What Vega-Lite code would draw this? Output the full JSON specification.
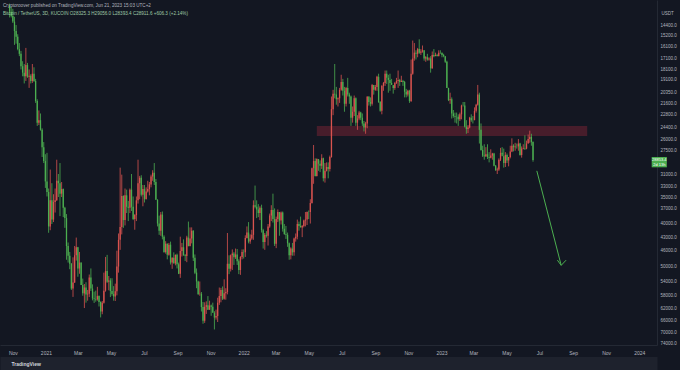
{
"$schema":"https://vega.github.io/schema/vega-lite/v6.json",
"width":657,"height":345,"autosize":"none","padding":{"left":0,"top":0,"right":23,"bottom":25},
"background":"#131722",
"config":{"view":{"stroke":null},"font":"Liberation Sans"},
"title":{"text":"Cryptoroover published on TradingView.com, Jun 21, 2023 15:03 UTC+2","subtitle":"Bitcoin / TetherUS, 3D, KUCOIN  O28325.3  H29056.0  L28393.4  C28911.6  +606.3 (+2.14%)","anchor":"start","frame":"group","orient":"top","offset":-16,"dx":3,"fontSize":4.6,"fontWeight":"normal","color":"#b2b5be","subtitleFontSize":4.6,"subtitleColor":"#9fc9a6","subtitlePadding":3.5},
"resolve":{"axis":{"x":"independent","y":"independent"}},
"datasets":{"candles":[
{"d":"2020-10-26","o":13030,"h":13850,"l":12900,"c":13450},
{"d":"2020-10-29","o":13450,"h":13850,"l":13100,"c":13750},
{"d":"2020-11-01","o":13750,"h":14250,"l":13250,"c":14150},
{"d":"2020-11-04","o":14150,"h":15950,"l":13800,"c":14850},
{"d":"2020-11-07","o":14850,"h":15850,"l":14400,"c":15300},
{"d":"2020-11-10","o":15300,"h":16400,"l":15100,"c":16300},
{"d":"2020-11-13","o":16300,"h":16900,"l":15800,"c":16700},
{"d":"2020-11-16","o":16700,"h":18100,"l":16450,"c":17800},
{"d":"2020-11-19","o":17800,"h":18750,"l":17350,"c":18400},
{"d":"2020-11-22","o":18400,"h":19450,"l":17600,"c":18750},
{"d":"2020-11-25","o":18750,"h":19200,"l":16200,"c":17700},
{"d":"2020-11-28","o":17700,"h":18900,"l":17500,"c":18800},
{"d":"2020-12-01","o":18800,"h":19900,"l":18100,"c":18700},
{"d":"2020-12-04","o":18700,"h":19450,"l":18550,"c":19200},
{"d":"2020-12-07","o":19200,"h":19400,"l":17600,"c":18500},
{"d":"2020-12-10","o":18500,"h":19300,"l":17900,"c":19200},
{"d":"2020-12-13","o":19200,"h":21500,"l":19000,"c":21300},
{"d":"2020-12-16","o":21300,"h":24200,"l":21100,"c":23800},
{"d":"2020-12-19","o":23800,"h":24100,"l":22350,"c":23500},
{"d":"2020-12-22","o":23500,"h":24800,"l":22700,"c":24700},
{"d":"2020-12-25","o":24700,"h":28400,"l":24500,"c":27000},
{"d":"2020-12-28","o":27000,"h":29300,"l":26300,"c":29000},
{"d":"2020-12-31","o":29000,"h":33300,"l":28000,"c":32200},
{"d":"2021-01-03","o":32200,"h":34800,"l":27800,"c":34000},
{"d":"2021-01-06","o":34000,"h":41950,"l":33400,"c":40600},
{"d":"2021-01-09","o":40600,"h":41400,"l":30300,"c":35500},
{"d":"2021-01-12","o":35500,"h":40100,"l":32500,"c":39200},
{"d":"2021-01-15","o":39200,"h":39700,"l":34400,"c":35800},
{"d":"2021-01-18","o":35800,"h":37800,"l":33400,"c":35500},
{"d":"2021-01-21","o":35500,"h":35600,"l":28800,"c":32100},
{"d":"2021-01-24","o":32100,"h":34900,"l":31000,"c":32500},
{"d":"2021-01-27","o":32500,"h":38500,"l":29300,"c":34300},
{"d":"2021-01-30","o":34300,"h":34900,"l":32300,"c":33500},
{"d":"2021-02-02","o":33500,"h":38700,"l":33400,"c":36900},
{"d":"2021-02-05","o":36900,"h":40900,"l":36700,"c":38900},
{"d":"2021-02-08","o":38900,"h":48200,"l":38100,"c":44900},
{"d":"2021-02-11","o":44900,"h":48900,"l":44100,"c":47200},
{"d":"2021-02-14","o":47200,"h":50600,"l":46300,"c":49200},
{"d":"2021-02-17","o":49200,"h":56300,"l":49000,"c":55900},
{"d":"2021-02-20","o":55900,"h":58350,"l":47600,"c":54200},
{"d":"2021-02-23","o":54200,"h":54300,"l":44900,"c":47100},
{"d":"2021-02-26","o":47100,"h":48400,"l":43000,"c":45200},
{"d":"2021-03-01","o":45200,"h":52600,"l":45100,"c":50400},
{"d":"2021-03-04","o":50400,"h":51800,"l":46300,"c":48900},
{"d":"2021-03-07","o":48900,"h":54900,"l":48900,"c":54900},
{"d":"2021-03-10","o":54900,"h":58000,"l":53100,"c":57300},
{"d":"2021-03-13","o":57300,"h":61800,"l":54600,"c":55600},
{"d":"2021-03-16","o":55600,"h":60100,"l":54100,"c":57600},
{"d":"2021-03-19","o":57600,"h":59500,"l":56300,"c":57400},
{"d":"2021-03-22","o":57400,"h":58400,"l":52000,"c":52800},
{"d":"2021-03-25","o":52800,"h":56600,"l":50400,"c":55900},
{"d":"2021-03-28","o":55900,"h":59400,"l":54700,"c":58800},
{"d":"2021-03-31","o":58800,"h":60200,"l":56800,"c":59000},
{"d":"2021-04-03","o":59000,"h":59800,"l":56500,"c":59100},
{"d":"2021-04-06","o":59100,"h":59500,"l":55400,"c":58100},
{"d":"2021-04-09","o":58100,"h":61300,"l":57900,"c":59900},
{"d":"2021-04-12","o":59900,"h":64850,"l":59700,"c":62900},
{"d":"2021-04-15","o":62900,"h":63800,"l":59600,"c":60100},
{"d":"2021-04-18","o":60100,"h":60400,"l":51500,"c":56500},
{"d":"2021-04-21","o":56500,"h":56800,"l":47500,"c":51100},
{"d":"2021-04-24","o":51100,"h":54300,"l":47000,"c":54000},
{"d":"2021-04-27","o":54000,"h":56400,"l":52400,"c":53600},
{"d":"2021-04-30","o":53600,"h":58400,"l":53000,"c":56600},
{"d":"2021-05-03","o":56600,"h":58000,"l":53000,"c":57500},
{"d":"2021-05-06","o":57500,"h":59500,"l":55200,"c":58200},
{"d":"2021-05-09","o":58200,"h":59600,"l":54500,"c":56700},
{"d":"2021-05-12","o":56700,"h":57900,"l":46000,"c":49900},
{"d":"2021-05-15","o":49900,"h":51500,"l":42100,"c":43500},
{"d":"2021-05-18","o":43500,"h":45800,"l":30000,"c":40700},
{"d":"2021-05-21","o":40700,"h":42300,"l":31100,"c":34700},
{"d":"2021-05-24","o":34700,"h":40900,"l":34600,"c":39300},
{"d":"2021-05-27","o":39300,"h":40400,"l":33400,"c":34600},
{"d":"2021-05-30","o":34600,"h":37900,"l":33600,"c":36700},
{"d":"2021-06-02","o":36700,"h":39500,"l":35600,"c":36900},
{"d":"2021-06-05","o":36900,"h":37900,"l":33400,"c":33600},
{"d":"2021-06-08","o":33600,"h":37500,"l":31000,"c":36700},
{"d":"2021-06-11","o":36700,"h":39300,"l":34800,"c":39100},
{"d":"2021-06-14","o":39100,"h":41300,"l":38100,"c":38300},
{"d":"2021-06-17","o":38300,"h":39500,"l":34800,"c":35500},
{"d":"2021-06-20","o":35500,"h":36100,"l":28800,"c":32500},
{"d":"2021-06-23","o":32500,"h":35300,"l":31300,"c":31600},
{"d":"2021-06-26","o":31600,"h":34800,"l":31200,"c":34500},
{"d":"2021-06-29","o":34500,"h":36600,"l":32800,"c":33500},
{"d":"2021-07-02","o":33500,"h":35900,"l":32800,"c":35300},
{"d":"2021-07-05","o":35300,"h":35300,"l":33200,"c":33900},
{"d":"2021-07-08","o":33900,"h":34100,"l":32100,"c":33500},
{"d":"2021-07-11","o":33500,"h":34600,"l":32300,"c":32700},
{"d":"2021-07-14","o":32700,"h":33200,"l":31100,"c":31400},
{"d":"2021-07-17","o":31400,"h":32100,"l":30400,"c":30800},
{"d":"2021-07-20","o":30800,"h":32800,"l":29300,"c":32300},
{"d":"2021-07-23","o":32300,"h":35400,"l":31800,"c":35400},
{"d":"2021-07-26","o":35400,"h":40600,"l":35300,"c":40000},
{"d":"2021-07-29","o":40000,"h":42400,"l":38400,"c":41500},
{"d":"2021-08-01","o":41500,"h":42600,"l":37700,"c":38200},
{"d":"2021-08-04","o":38200,"h":43400,"l":37600,"c":42800},
{"d":"2021-08-07","o":42800,"h":46500,"l":42500,"c":46300},
{"d":"2021-08-10","o":46300,"h":46700,"l":43800,"c":44400},
{"d":"2021-08-13","o":44400,"h":48100,"l":44300,"c":47000},
{"d":"2021-08-16","o":47000,"h":47200,"l":44200,"c":44600},
{"d":"2021-08-19","o":44600,"h":49400,"l":43900,"c":48900},
{"d":"2021-08-22","o":48900,"h":50500,"l":47600,"c":47700},
{"d":"2021-08-25","o":47700,"h":49200,"l":46400,"c":49100},
{"d":"2021-08-28","o":49100,"h":49600,"l":46900,"c":47000},
{"d":"2021-08-31","o":47000,"h":50400,"l":46700,"c":49300},
{"d":"2021-09-03","o":49300,"h":51900,"l":48900,"c":51800},
{"d":"2021-09-06","o":51800,"h":52900,"l":42800,"c":46100},
{"d":"2021-09-09","o":46100,"h":47400,"l":44200,"c":45200},
{"d":"2021-09-12","o":45200,"h":47200,"l":43400,"c":47100},
{"d":"2021-09-15","o":47100,"h":48500,"l":46800,"c":47300},
{"d":"2021-09-18","o":47300,"h":48800,"l":42600,"c":43000},
{"d":"2021-09-21","o":43000,"h":45000,"l":39600,"c":44900},
{"d":"2021-09-24","o":44900,"h":45000,"l":40800,"c":43200},
{"d":"2021-09-27","o":43200,"h":44300,"l":40800,"c":41500},
{"d":"2021-09-30","o":41500,"h":48500,"l":41400,"c":47700},
{"d":"2021-10-03","o":47700,"h":51900,"l":46900,"c":51500},
{"d":"2021-10-06","o":51500,"h":55800,"l":50400,"c":53900},
{"d":"2021-10-09","o":53900,"h":57800,"l":53700,"c":57500},
{"d":"2021-10-12","o":57500,"h":58000,"l":53900,"c":57400},
{"d":"2021-10-15","o":57400,"h":62900,"l":56900,"c":61500},
{"d":"2021-10-18","o":61500,"h":67000,"l":59900,"c":66000},
{"d":"2021-10-21","o":66000,"h":66700,"l":60000,"c":61400},
{"d":"2021-10-24","o":61400,"h":63700,"l":59700,"c":60900},
{"d":"2021-10-27","o":60900,"h":62400,"l":58100,"c":62300},
{"d":"2021-10-30","o":62300,"h":62400,"l":59500,"c":61000},
{"d":"2021-11-02","o":61000,"h":64300,"l":60700,"c":61400},
{"d":"2021-11-05","o":61400,"h":63300,"l":60100,"c":63300},
{"d":"2021-11-08","o":63300,"h":69000,"l":62800,"c":64900},
{"d":"2021-11-11","o":64900,"h":65600,"l":62300,"c":64400},
{"d":"2021-11-14","o":64400,"h":66400,"l":58600,"c":60100},
{"d":"2021-11-17","o":60100,"h":60800,"l":55600,"c":58100},
{"d":"2021-11-20","o":58100,"h":60000,"l":55700,"c":56300},
{"d":"2021-11-23","o":56300,"h":59300,"l":55300,"c":58900},
{"d":"2021-11-26","o":58900,"h":59200,"l":53300,"c":57300},
{"d":"2021-11-29","o":57300,"h":59200,"l":55800,"c":56900},
{"d":"2021-12-02","o":56900,"h":57600,"l":42000,"c":49200},
{"d":"2021-12-05","o":49200,"h":51900,"l":47100,"c":50500},
{"d":"2021-12-08","o":50500,"h":51200,"l":46900,"c":47100},
{"d":"2021-12-11","o":47100,"h":50800,"l":45700,"c":46700},
{"d":"2021-12-14","o":46700,"h":49500,"l":46300,"c":47600},
{"d":"2021-12-17","o":47600,"h":48000,"l":45500,"c":46900},
{"d":"2021-12-20","o":46900,"h":49500,"l":45600,"c":48600},
{"d":"2021-12-23","o":48600,"h":51900,"l":48100,"c":50800},
{"d":"2021-12-26","o":50800,"h":52100,"l":47300,"c":47500},
{"d":"2021-12-29","o":47500,"h":48100,"l":45700,"c":46300},
{"d":"2022-01-01","o":46300,"h":47900,"l":45700,"c":46400},
{"d":"2022-01-04","o":46400,"h":47500,"l":42500,"c":43100},
{"d":"2022-01-07","o":43100,"h":43200,"l":40600,"c":41900},
{"d":"2022-01-10","o":41900,"h":44300,"l":39700,"c":43900},
{"d":"2022-01-13","o":43900,"h":44400,"l":42300,"c":43200},
{"d":"2022-01-16","o":43200,"h":43500,"l":41300,"c":42400},
{"d":"2022-01-19","o":42400,"h":43500,"l":35500,"c":36400},
{"d":"2022-01-22","o":36400,"h":37000,"l":32900,"c":36700},
{"d":"2022-01-25","o":36700,"h":38900,"l":35500,"c":37200},
{"d":"2022-01-28","o":37200,"h":38700,"l":36200,"c":37900},
{"d":"2022-01-31","o":37900,"h":39300,"l":36600,"c":36900},
{"d":"2022-02-03","o":36900,"h":41900,"l":36300,"c":41400},
{"d":"2022-02-06","o":41400,"h":45500,"l":41100,"c":44000},
{"d":"2022-02-09","o":44000,"h":45800,"l":42000,"c":42400},
{"d":"2022-02-12","o":42400,"h":43000,"l":41600,"c":42600},
{"d":"2022-02-15","o":42600,"h":44800,"l":40100,"c":40600},
{"d":"2022-02-18","o":40600,"h":40900,"l":38000,"c":38400},
{"d":"2022-02-21","o":38400,"h":39500,"l":36400,"c":37300},
{"d":"2022-02-24","o":37300,"h":39800,"l":34300,"c":39100},
{"d":"2022-02-27","o":39100,"h":44900,"l":37000,"c":44400},
{"d":"2022-03-02","o":44400,"h":45400,"l":38600,"c":39100},
{"d":"2022-03-05","o":39100,"h":39700,"l":37200,"c":37700},
{"d":"2022-03-08","o":37700,"h":42600,"l":37900,"c":39400},
{"d":"2022-03-11","o":39400,"h":40200,"l":37600,"c":37800},
{"d":"2022-03-14","o":37800,"h":41700,"l":37600,"c":41100},
{"d":"2022-03-17","o":41100,"h":42400,"l":40100,"c":42200},
{"d":"2022-03-20","o":42200,"h":43300,"l":40500,"c":42400},
{"d":"2022-03-23","o":42400,"h":45100,"l":41900,"c":44300},
{"d":"2022-03-26","o":44300,"h":48200,"l":44100,"c":47100},
{"d":"2022-03-29","o":47100,"h":48100,"l":45200,"c":45500},
{"d":"2022-04-01","o":45500,"h":47200,"l":44200,"c":46400},
{"d":"2022-04-04","o":46400,"h":47200,"l":43000,"c":43200},
{"d":"2022-04-07","o":43200,"h":43900,"l":42100,"c":42800},
{"d":"2022-04-10","o":42800,"h":43400,"l":39200,"c":40100},
{"d":"2022-04-13","o":40100,"h":41500,"l":39600,"c":40500},
{"d":"2022-04-16","o":40500,"h":40800,"l":38600,"c":40800},
{"d":"2022-04-19","o":40800,"h":42900,"l":40300,"c":40500},
{"d":"2022-04-22","o":40500,"h":40800,"l":39200,"c":39400},
{"d":"2022-04-25","o":39400,"h":40600,"l":37700,"c":39200},
{"d":"2022-04-28","o":39200,"h":40300,"l":37600,"c":37700},
{"d":"2022-05-01","o":37700,"h":39100,"l":37400,"c":37700},
{"d":"2022-05-04","o":37700,"h":40000,"l":35300,"c":36000},
{"d":"2022-05-07","o":36000,"h":36100,"l":30000,"c":30100},
{"d":"2022-05-10","o":30100,"h":32600,"l":26700,"c":29000},
{"d":"2022-05-13","o":29000,"h":31400,"l":28600,"c":31300},
{"d":"2022-05-16","o":31300,"h":31400,"l":28600,"c":28700},
{"d":"2022-05-19","o":28700,"h":30500,"l":28700,"c":29400},
{"d":"2022-05-22","o":29400,"h":30700,"l":28900,"c":29700},
{"d":"2022-05-25","o":29700,"h":30200,"l":28000,"c":28600},
{"d":"2022-05-28","o":28600,"h":32200,"l":28500,"c":31700},
{"d":"2022-05-31","o":31700,"h":32400,"l":29300,"c":30500},
{"d":"2022-06-03","o":30500,"h":30600,"l":29200,"c":29900},
{"d":"2022-06-06","o":29900,"h":31700,"l":29200,"c":30200},
{"d":"2022-06-09","o":30200,"h":30600,"l":28200,"c":28400},
{"d":"2022-06-12","o":28400,"h":28500,"l":20800,"c":22200},
{"d":"2022-06-15","o":22200,"h":22900,"l":20100,"c":20500},
{"d":"2022-06-18","o":20500,"h":21000,"l":17600,"c":20600},
{"d":"2022-06-21","o":20600,"h":21700,"l":19800,"c":21100},
{"d":"2022-06-24","o":21100,"h":21900,"l":20900,"c":21000},
{"d":"2022-06-27","o":21000,"h":21500,"l":19900,"c":20100},
{"d":"2022-06-30","o":20100,"h":20200,"l":18600,"c":19300},
{"d":"2022-07-03","o":19300,"h":20700,"l":19000,"c":20200},
{"d":"2022-07-06","o":20200,"h":22500,"l":19800,"c":21600},
{"d":"2022-07-09","o":21600,"h":21900,"l":19800,"c":19900},
{"d":"2022-07-12","o":19900,"h":20800,"l":18900,"c":20600},
{"d":"2022-07-15","o":20600,"h":21600,"l":20400,"c":20800},
{"d":"2022-07-18","o":20800,"h":24200,"l":20700,"c":23200},
{"d":"2022-07-21","o":23200,"h":23800,"l":21900,"c":22500},
{"d":"2022-07-24","o":22500,"h":23000,"l":20700,"c":21000},
{"d":"2022-07-27","o":21000,"h":24200,"l":20900,"c":23800},
{"d":"2022-07-30","o":23800,"h":24700,"l":22900,"c":23300},
{"d":"2022-08-02","o":23300,"h":23500,"l":22400,"c":22600},
{"d":"2022-08-05","o":22600,"h":23500,"l":22500,"c":23200},
{"d":"2022-08-08","o":23200,"h":24200,"l":22700,"c":23900},
{"d":"2022-08-11","o":23900,"h":24900,"l":23600,"c":24400},
{"d":"2022-08-14","o":24400,"h":25200,"l":23700,"c":23900},
{"d":"2022-08-17","o":23900,"h":24500,"l":20800,"c":20800},
{"d":"2022-08-20","o":20800,"h":21800,"l":20800,"c":21400},
{"d":"2022-08-23","o":21400,"h":21900,"l":20900,"c":21600},
{"d":"2022-08-26","o":21600,"h":21800,"l":19500,"c":19600},
{"d":"2022-08-29","o":19600,"h":20600,"l":19600,"c":20100},
{"d":"2022-09-01","o":20100,"h":20200,"l":19600,"c":19800},
{"d":"2022-09-04","o":19800,"h":20200,"l":18700,"c":18800},
{"d":"2022-09-07","o":18800,"h":21500,"l":18500,"c":21400},
{"d":"2022-09-10","o":21400,"h":22500,"l":21300,"c":22400},
{"d":"2022-09-13","o":22400,"h":22800,"l":19600,"c":19700},
{"d":"2022-09-16","o":19700,"h":20200,"l":19300,"c":19400},
{"d":"2022-09-19","o":19400,"h":19700,"l":18200,"c":18500},
{"d":"2022-09-22","o":18500,"h":19500,"l":18200,"c":18900},
{"d":"2022-09-25","o":18900,"h":20400,"l":18600,"c":19100},
{"d":"2022-09-28","o":19100,"h":20200,"l":18500,"c":19400},
{"d":"2022-10-01","o":19400,"h":19500,"l":19000,"c":19600},
{"d":"2022-10-04","o":19600,"h":20500,"l":19700,"c":19900},
{"d":"2022-10-07","o":19900,"h":20100,"l":19300,"c":19400},
{"d":"2022-10-10","o":19400,"h":19500,"l":18900,"c":19200},
{"d":"2022-10-13","o":19200,"h":19900,"l":18200,"c":19100},
{"d":"2022-10-16","o":19100,"h":19700,"l":19000,"c":19300},
{"d":"2022-10-19","o":19300,"h":19300,"l":18700,"c":19200},
{"d":"2022-10-22","o":19200,"h":19700,"l":19100,"c":19300},
{"d":"2022-10-25","o":19300,"h":20900,"l":19200,"c":20300},
{"d":"2022-10-28","o":20300,"h":20900,"l":20000,"c":20600},
{"d":"2022-10-31","o":20600,"h":20800,"l":20100,"c":20200},
{"d":"2022-11-03","o":20200,"h":21500,"l":20100,"c":21300},
{"d":"2022-11-06","o":21300,"h":21400,"l":17200,"c":18500},
{"d":"2022-11-09","o":18500,"h":18600,"l":15600,"c":17100},
{"d":"2022-11-12","o":17100,"h":17300,"l":15800,"c":16600},
{"d":"2022-11-15","o":16600,"h":17200,"l":16400,"c":16700},
{"d":"2022-11-18","o":16700,"h":17000,"l":16200,"c":16300},
{"d":"2022-11-21","o":16300,"h":16700,"l":15500,"c":16600},
{"d":"2022-11-24","o":16600,"h":16800,"l":16300,"c":16500},
{"d":"2022-11-27","o":16500,"h":16600,"l":16000,"c":16400},
{"d":"2022-11-30","o":16400,"h":17300,"l":16400,"c":17100},
{"d":"2022-12-03","o":17100,"h":17400,"l":16900,"c":17000},
{"d":"2022-12-06","o":17000,"h":17300,"l":16700,"c":17200},
{"d":"2022-12-09","o":17200,"h":17300,"l":17000,"c":17100},
{"d":"2022-12-12","o":17100,"h":18400,"l":16900,"c":18000},
{"d":"2022-12-15","o":18000,"h":18000,"l":16500,"c":16800},
{"d":"2022-12-18","o":16800,"h":17000,"l":16300,"c":16900},
{"d":"2022-12-21","o":16900,"h":16900,"l":16600,"c":16800},
{"d":"2022-12-24","o":16800,"h":16900,"l":16700,"c":16900},
{"d":"2022-12-27","o":16900,"h":16900,"l":16400,"c":16600},
{"d":"2022-12-30","o":16600,"h":16700,"l":16400,"c":16600},
{"d":"2023-01-02","o":16600,"h":17000,"l":16600,"c":16800},
{"d":"2023-01-05","o":16800,"h":17000,"l":16700,"c":16900},
{"d":"2023-01-08","o":16900,"h":17500,"l":16900,"c":17400},
{"d":"2023-01-11","o":17400,"h":19900,"l":17300,"c":19900},
{"d":"2023-01-14","o":19900,"h":21300,"l":19900,"c":21200},
{"d":"2023-01-17","o":21200,"h":21600,"l":20400,"c":21100},
{"d":"2023-01-20","o":21100,"h":23300,"l":20900,"c":22700},
{"d":"2023-01-23","o":22700,"h":23200,"l":22300,"c":23000},
{"d":"2023-01-26","o":23000,"h":23800,"l":22600,"c":23100},
{"d":"2023-01-29","o":23100,"h":23900,"l":22600,"c":23100},
{"d":"2023-02-01","o":23100,"h":24200,"l":22800,"c":23400},
{"d":"2023-02-04","o":23400,"h":23600,"l":22600,"c":22800},
{"d":"2023-02-07","o":22800,"h":23400,"l":21700,"c":21800},
{"d":"2023-02-10","o":21800,"h":21900,"l":21400,"c":21800},
{"d":"2023-02-13","o":21800,"h":24400,"l":21400,"c":24300},
{"d":"2023-02-16","o":24300,"h":25200,"l":23500,"c":24600},
{"d":"2023-02-19","o":24600,"h":25100,"l":24100,"c":24400},
{"d":"2023-02-22","o":24400,"h":24500,"l":23100,"c":23200},
{"d":"2023-02-25","o":23200,"h":23700,"l":22800,"c":23500},
{"d":"2023-02-28","o":23500,"h":23900,"l":23000,"c":23500},
{"d":"2023-03-03","o":23500,"h":23500,"l":22000,"c":22400},
{"d":"2023-03-06","o":22400,"h":22600,"l":21600,"c":21700},
{"d":"2023-03-09","o":21700,"h":21800,"l":19600,"c":20600},
{"d":"2023-03-12","o":20600,"h":26500,"l":20400,"c":24700},
{"d":"2023-03-15","o":24700,"h":27500,"l":23900,"c":27400},
{"d":"2023-03-18","o":27400,"h":28400,"l":26800,"c":28200},
{"d":"2023-03-21","o":28200,"h":28800,"l":26600,"c":28300},
{"d":"2023-03-24","o":28300,"h":28400,"l":27000,"c":28000},
{"d":"2023-03-27","o":28000,"h":28700,"l":26600,"c":28400},
{"d":"2023-03-30","o":28400,"h":29200,"l":27700,"c":28500},
{"d":"2023-04-02","o":28500,"h":28600,"l":27300,"c":28200},
{"d":"2023-04-05","o":28200,"h":28800,"l":27800,"c":27900},
{"d":"2023-04-08","o":27900,"h":29800,"l":27800,"c":29700},
{"d":"2023-04-11","o":29700,"h":30500,"l":29600,"c":30400},
{"d":"2023-04-14","o":30400,"h":31000,"l":30000,"c":30300},
{"d":"2023-04-17","o":30300,"h":30500,"l":28600,"c":28800},
{"d":"2023-04-20","o":28800,"h":29000,"l":27100,"c":27800},
{"d":"2023-04-23","o":27800,"h":28000,"l":27000,"c":28300},
{"d":"2023-04-26","o":28300,"h":30000,"l":27200,"c":29300},
{"d":"2023-04-29","o":29300,"h":29900,"l":27700,"c":28100},
{"d":"2023-05-02","o":28100,"h":29300,"l":27900,"c":28900},
{"d":"2023-05-05","o":28900,"h":29800,"l":28400,"c":28400},
{"d":"2023-05-08","o":28400,"h":28600,"l":26800,"c":27600},
{"d":"2023-05-11","o":27600,"h":27700,"l":25800,"c":26800},
{"d":"2023-05-14","o":26800,"h":27600,"l":26600,"c":27000},
{"d":"2023-05-17","o":27000,"h":27500,"l":26400,"c":26900},
{"d":"2023-05-20","o":26900,"h":27200,"l":26500,"c":26900},
{"d":"2023-05-23","o":26900,"h":27500,"l":25900,"c":26500},
{"d":"2023-05-26","o":26500,"h":28200,"l":26400,"c":28100},
{"d":"2023-05-29","o":28100,"h":28500,"l":26900,"c":27200},
{"d":"2023-06-01","o":27200,"h":27300,"l":26600,"c":27100},
{"d":"2023-06-04","o":27100,"h":27400,"l":25400,"c":27200},
{"d":"2023-06-07","o":27200,"h":27300,"l":26100,"c":26500},
{"d":"2023-06-10","o":26500,"h":26500,"l":25300,"c":25900},
{"d":"2023-06-13","o":25900,"h":26400,"l":24800,"c":25600},
{"d":"2023-06-16","o":25600,"h":26800,"l":25200,"c":26300},
{"d":"2023-06-19","o":26300,"h":29100,"l":26200,"c":28850}
]},
"layer":[
{"data":{"values":[{"s":"2022-05-16","e":"2023-09-27","lo":24200,"hi":25500}]},
 "mark":{"type":"rect","color":"#4a1e2c","opacity":0.95},
 "encoding":{
  "x":{"field":"s","type":"temporal","scale":{"type":"utc","domain":[{"year":2020,"month":10,"date":17,"hours":12,"utc":true},{"year":2024,"month":1,"date":24,"hours":14,"utc":true}]},"axis":null},
  "x2":{"field":"e"},
  "y":{"field":"lo","type":"quantitative","scale":{"type":"log","domain":[12660,74740],"reverse":true,"nice":false,"zero":false},"axis":null},
  "y2":{"field":"hi"}}},
{"data":{"name":"candles"},
 "mark":{"type":"rule","strokeWidth":0.8,"clip":true},
 "encoding":{
  "x":{"field":"d","type":"temporal","scale":{"type":"utc","domain":[{"year":2020,"month":10,"date":17,"hours":12,"utc":true},{"year":2024,"month":1,"date":24,"hours":14,"utc":true}]},
   "axis":{"orient":"bottom","values":[{"year":2020,"month":11,"date":1,"utc":true},{"year":2021,"month":1,"date":1,"utc":true},{"year":2021,"month":3,"date":1,"utc":true},{"year":2021,"month":5,"date":1,"utc":true},{"year":2021,"month":7,"date":1,"utc":true},{"year":2021,"month":9,"date":1,"utc":true},{"year":2021,"month":11,"date":1,"utc":true},{"year":2022,"month":1,"date":1,"utc":true},{"year":2022,"month":3,"date":1,"utc":true},{"year":2022,"month":5,"date":1,"utc":true},{"year":2022,"month":7,"date":1,"utc":true},{"year":2022,"month":9,"date":1,"utc":true},{"year":2022,"month":11,"date":1,"utc":true},{"year":2023,"month":1,"date":1,"utc":true},{"year":2023,"month":3,"date":1,"utc":true},{"year":2023,"month":5,"date":1,"utc":true},{"year":2023,"month":7,"date":1,"utc":true},{"year":2023,"month":9,"date":1,"utc":true},{"year":2023,"month":11,"date":1,"utc":true},{"year":2024,"month":1,"date":1,"utc":true}],
    "labelExpr":"utcmonth(datum.value) == 0 ? utcFormat(datum.value, '%Y') : utcFormat(datum.value, '%b')",
    "labelFontSize":5,"labelColor":"#b2b5be","ticks":false,"labelPadding":5,"domainColor":"#2a2e39","domainWidth":0.8,"grid":false,"title":null,"labelOverlap":false,"labelFlush":false}},
  "y":{"field":"l","type":"quantitative","scale":{"type":"log","domain":[12660,74740],"reverse":true,"nice":false,"zero":false},
   "axis":{"orient":"right","values":[14400,15200,16100,17100,18100,19100,20350,21600,22800,24400,26000,27500,31000,33000,35000,37000,40000,43000,46000,50000,54000,58000,62000,66000,70000,74000],
    "format":".1f","labelFontSize":4.5,"labelColor":"#b2b5be","ticks":false,"labelPadding":3,"domainColor":"#2a2e39","domainWidth":0.8,"grid":false,"labelOverlap":false,"labelFlush":false,
    "title":"USDT","titleAngle":0,"titleX":4,"titleY":13,"titleAlign":"left","titleBaseline":"middle","titleFontSize":4.5,"titleFontWeight":"normal","titleColor":"#b2b5be"}},
  "y2":{"field":"h"},
  "color":{"condition":{"test":"datum.c >= datum.o","value":"#4caf50"},"value":"#d9534f"}}},
{"data":{"name":"candles"},
 "mark":{"type":"bar","size":1.3,"clip":true},
 "encoding":{
  "x":{"field":"d","type":"temporal","scale":{"type":"utc","domain":[{"year":2020,"month":10,"date":17,"hours":12,"utc":true},{"year":2024,"month":1,"date":24,"hours":14,"utc":true}]},"axis":null},
  "y":{"field":"o","type":"quantitative","scale":{"type":"log","domain":[12660,74740],"reverse":true,"nice":false,"zero":false},"axis":null},
  "y2":{"field":"c"},
  "color":{"condition":{"test":"datum.c >= datum.o","value":"#4caf50"},"value":"#d9534f"}}},
{"data":{"values":[
  {"g":"shaft","d":"2023-06-26","p":30500},{"g":"shaft","d":"2023-08-10","p":49600},
  {"g":"head","d":"2023-08-03","p":48300},{"g":"head","d":"2023-08-10","p":49600},{"g":"head","d":"2023-08-19","p":48300}]},
 "mark":{"type":"line","color":"#4caf50","strokeWidth":1},
 "encoding":{
  "x":{"field":"d","type":"temporal","scale":{"type":"utc","domain":[{"year":2020,"month":10,"date":17,"hours":12,"utc":true},{"year":2024,"month":1,"date":24,"hours":14,"utc":true}]},
   "axis":{"orient":"bottom","offset":18,"domainWidth":13,"domainColor":"#1e222d","labels":false,"ticks":false,"grid":false,
    "title":"TradingView","titleAnchor":"start","titleAlign":"left","titleBaseline":"middle","titleX":11,"titleY":0,"titleFontSize":5,"titleColor":"#d1d4dc","titleFontWeight":"bold"}},
  "y":{"field":"p","type":"quantitative","scale":{"type":"log","domain":[12660,74740],"reverse":true,"nice":false,"zero":false},"axis":null},
  "detail":{"field":"g"}}},
{"data":{"values":[{"s":"2024-01-24","e":"2024-02-21","lo":28400,"hi":29950}]},
 "mark":{"type":"rect","color":"#4caf50"},
 "encoding":{
  "x":{"field":"s","type":"temporal","scale":{"type":"utc","domain":[{"year":2020,"month":10,"date":17,"hours":12,"utc":true},{"year":2024,"month":1,"date":24,"hours":14,"utc":true}]},"axis":null},
  "x2":{"field":"e"},
  "y":{"field":"lo","type":"quantitative","scale":{"type":"log","domain":[12660,74740],"reverse":true,"nice":false,"zero":false},"axis":null},
  "y2":{"field":"hi"}}},
{"data":{"values":[{"d":"2024-02-07","p":28800,"t":"28853.4"},{"d":"2024-02-07","p":29600,"t":"2d 13h"}]},
 "mark":{"type":"text","color":"#ffffff","fontSize":4,"baseline":"middle","align":"center"},
 "encoding":{
  "x":{"field":"d","type":"temporal","scale":{"type":"utc","domain":[{"year":2020,"month":10,"date":17,"hours":12,"utc":true},{"year":2024,"month":1,"date":24,"hours":14,"utc":true}]},"axis":null},
  "y":{"field":"p","type":"quantitative","scale":{"type":"log","domain":[12660,74740],"reverse":true,"nice":false,"zero":false},"axis":null},
  "text":{"field":"t"}}}
]
}
